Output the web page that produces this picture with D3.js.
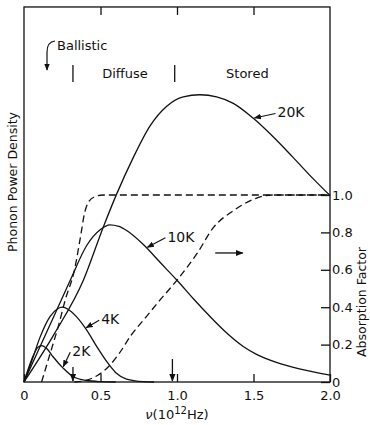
<!DOCTYPE html>
<html>
<head>
<meta charset="utf-8">
<script src="https://cdn.jsdelivr.net/npm/d3@7"></script>
<style>
  body { margin: 0; background: #fff; }
  svg { font-family: "DejaVu Sans", sans-serif; }
  .curve { fill: none; stroke: #111; stroke-width: 1.3; }
  .dash { stroke-dasharray: 7,4; }
  text { fill: #111; }
</style>
</head>
<body>
<div id="chart"></div>
<script>
// phonon power density curves, [nu (10^12 Hz), density]
const curve2K = [[0,0],[0.03,0.075],[0.06,0.14],[0.09,0.185],[0.115,0.195],[0.15,0.178],[0.19,0.135],[0.257,0.073],[0.322,0.028],[0.41,0.008],[0.5,0.002],[0.6,0]];
const curve4K = [[0,0],[0.05,0.11],[0.105,0.24],[0.17,0.35],[0.22,0.392],[0.25,0.40],[0.29,0.388],[0.344,0.348],[0.41,0.277],[0.475,0.19],[0.54,0.11],[0.6,0.05],[0.67,0.016],[0.78,0.002],[0.85,0]];
const curve10K = [[0,0],[0.1,0.18],[0.2,0.36],[0.3,0.54],[0.41,0.73],[0.5,0.815],[0.56,0.84],[0.62,0.832],[0.671,0.81],[0.78,0.735],[0.889,0.64],[1.0,0.544],[1.107,0.445],[1.216,0.35],[1.325,0.262],[1.433,0.19],[1.52,0.148],[1.65,0.105],[1.8,0.07],[2.0,0.037]];
const curve20K = [[0,0],[0.2,0.26],[0.388,0.544],[0.518,0.828],[0.606,1.006],[0.714,1.2],[0.824,1.37],[0.933,1.475],[1.041,1.525],[1.15,1.536],[1.259,1.525],[1.368,1.49],[1.499,1.41],[1.63,1.31],[1.76,1.2],[1.891,1.086],[2.0,0.997]];

// absorption factor curves (dashed)
const absorbA = [[0.115,0],[0.17,0.15],[0.225,0.3],[0.27,0.44],[0.33,0.6],[0.37,0.78],[0.395,0.9],[0.42,0.96],[0.46,0.99],[0.52,1.0],[2.0,1.0]];
const absorbB = [[0.33,0],[0.41,0.01],[0.48,0.035],[0.55,0.08],[0.62,0.15],[0.7,0.25],[0.8,0.35],[0.87,0.42],[1.0,0.545],[1.13,0.686],[1.24,0.828],[1.37,0.917],[1.48,0.97],[1.57,0.995],[1.62,1.0],[2.0,1.0]];

const xTicks = [0, 0.5, 1.0, 1.5, 2.0];
const xTickLabels = ["0", "0.5", "1.0", "1.5", "2.0"];
const rightTicks = [0, 0.2, 0.4, 0.6, 0.8, 1.0];
const rightTickLabels = ["0", "0.2", "0.4", "0.6", "0.8", "1.0"];
const regionBounds = [0.32, 0.985];
const regionNames = ["Diffuse", "Stored"];
const regionCenters = [0.66, 1.46];
const bottomArrows = [0.32, 0.97];

const width = 370, height = 425;
const svg = d3.select("#chart").append("svg")
    .attr("width", width)
    .attr("height", height);

const x = d3.scaleLinear().domain([0, 2]).range([24, 330]);
const y = d3.scaleLinear().domain([0, 1]).range([382, 195]);
const font = "DejaVu Sans, sans-serif";

svg.append("defs").append("marker")
    .attr("id", "head")
    .attr("viewBox", "0 0 10 10")
    .attr("refX", 9).attr("refY", 5)
    .attr("markerWidth", 6).attr("markerHeight", 6)
    .attr("orient", "auto-start-reverse")
    .append("path")
    .attr("d", "M0,1 L10,5 L0,9 Z")
    .attr("fill", "#111");

// frame
svg.append("rect")
    .attr("x", x(0)).attr("y", y(2.0055))
    .attr("width", x(2) - x(0)).attr("height", y(0) - y(2.0055))
    .attr("fill", "none").attr("stroke", "#111").attr("stroke-width", 1.3);

// bottom axis, ticks pointing in
const xAxis = svg.append("g")
    .attr("transform", `translate(0,${y(0)})`)
    .call(d3.axisBottom(x).tickValues(xTicks).tickSizeInner(-8).tickSizeOuter(0).tickPadding(9)
        .tickFormat((d, i) => xTickLabels[i]));
xAxis.select(".domain").remove();
xAxis.selectAll("line").attr("stroke", "#111").attr("stroke-width", 1.3);
xAxis.selectAll("text").attr("font-size", 13).attr("font-family", font).attr("fill", "#111");

// top ticks
const topAxis = svg.append("g")
    .attr("transform", `translate(0,${y(2.0055)})`)
    .call(d3.axisTop(x).tickValues([0.5, 1.0, 1.5]).tickSizeInner(-8).tickSizeOuter(0).tickFormat(""));
topAxis.select(".domain").remove();
topAxis.selectAll("line").attr("stroke", "#111").attr("stroke-width", 1.3);

// right axis: absorption factor
const rAxis = svg.append("g")
    .attr("transform", `translate(${x(2)},0)`)
    .call(d3.axisRight(y).tickValues(rightTicks).tickSizeInner(-9).tickSizeOuter(0).tickPadding(2)
        .tickFormat((d, i) => rightTickLabels[i]));
rAxis.select(".domain").remove();
rAxis.selectAll("line").attr("stroke", "#111").attr("stroke-width", 1.3);
rAxis.selectAll("text").attr("font-size", 13).attr("font-family", font).attr("fill", "#111");

const line = d3.line()
    .x(d => x(d[0]))
    .y(d => y(d[1]))
    .curve(d3.curveMonotoneX);

[curve2K, curve4K, curve10K, curve20K].forEach(c => {
    svg.append("path").attr("class", "curve").attr("d", line(c));
});
[absorbA, absorbB].forEach(c => {
    svg.append("path").attr("class", "curve dash").attr("d", line(c));
});

// value on a curve at nu (linear between read points)
function at(c, nu) {
    for (let i = 1; i < c.length; i++) {
        if (c[i][0] >= nu) {
            const t = (nu - c[i - 1][0]) / (c[i][0] - c[i - 1][0]);
            return c[i - 1][1] + t * (c[i][1] - c[i - 1][1]);
        }
    }
    return c[c.length - 1][1];
}

// curve labels with leader arrows
const labels = [
    { name: "20K", c: curve20K, nu: 1.50, dx: 24, dy: -6 },
    { name: "10K", c: curve10K, nu: 0.80, dx: 21, dy: -11 },
    { name: "4K", c: curve4K, nu: 0.40, dx: 16, dy: -9 },
    { name: "2K", c: curve2K, nu: 0.25, dx: 10, dy: -16 }
];
labels.forEach(l => {
    const px = x(l.nu), py = y(at(l.c, l.nu));
    svg.append("line")
        .attr("x1", px + l.dx - 2).attr("y1", py + l.dy + 1)
        .attr("x2", px + 1).attr("y2", py - 0.5)
        .attr("stroke", "#111").attr("stroke-width", 1.2)
        .attr("marker-end", "url(#head)");
    svg.append("text")
        .attr("x", px + l.dx).attr("y", py + l.dy + 5)
        .attr("font-size", 14)
        .text(l.name);
});

// right-pointing arrow: dashed curves read on the right axis
svg.append("line")
    .attr("x1", x(1.25)).attr("x2", x(1.43))
    .attr("y1", y(0.69)).attr("y2", y(0.69))
    .attr("stroke", "#111").attr("stroke-width", 1.3)
    .attr("marker-end", "url(#head)");

// region markers
regionBounds.forEach(b => {
    svg.append("line")
        .attr("x1", x(b)).attr("x2", x(b))
        .attr("y1", 65).attr("y2", 82)
        .attr("stroke", "#111").attr("stroke-width", 1.3);
});
regionNames.forEach((n, i) => {
    svg.append("text")
        .attr("x", x(regionCenters[i])).attr("y", 78)
        .attr("text-anchor", "middle")
        .attr("font-size", 13)
        .text(n);
});
svg.append("text")
    .attr("x", 57).attr("y", 50)
    .attr("font-size", 13)
    .text("Ballistic");
svg.append("path")
    .attr("d", "M55,41 Q47,42 47,52 L47,70")
    .attr("fill", "none").attr("stroke", "#111").attr("stroke-width", 1.2)
    .attr("marker-end", "url(#head)");

// arrows on the frequency axis
bottomArrows.forEach((b, i) => {
    svg.append("line")
        .attr("x1", x(b)).attr("x2", x(b))
        .attr("y1", i === 0 ? 367 : 359).attr("y2", y(0) - 1)
        .attr("stroke", "#111").attr("stroke-width", 1.3)
        .attr("marker-end", "url(#head)");
});

// axis titles
svg.append("text")
    .attr("transform", `translate(17,182) rotate(-90)`)
    .attr("text-anchor", "middle")
    .attr("font-size", 12.5)
    .text("Phonon Power Density");
svg.append("text")
    .attr("transform", `translate(366,302) rotate(-90)`)
    .attr("text-anchor", "middle")
    .attr("font-size", 12.5)
    .text("Absorption Factor");

const xl = svg.append("text")
    .attr("x", x(1.0)).attr("y", 419)
    .attr("text-anchor", "middle")
    .attr("font-size", 13);
xl.append("tspan").attr("font-style", "italic").text("ν");
xl.append("tspan").text("(10");
xl.append("tspan").attr("dy", -5).attr("font-size", 10).text("12");
xl.append("tspan").attr("dy", 5).text("Hz)");
</script>
</body>
</html>
